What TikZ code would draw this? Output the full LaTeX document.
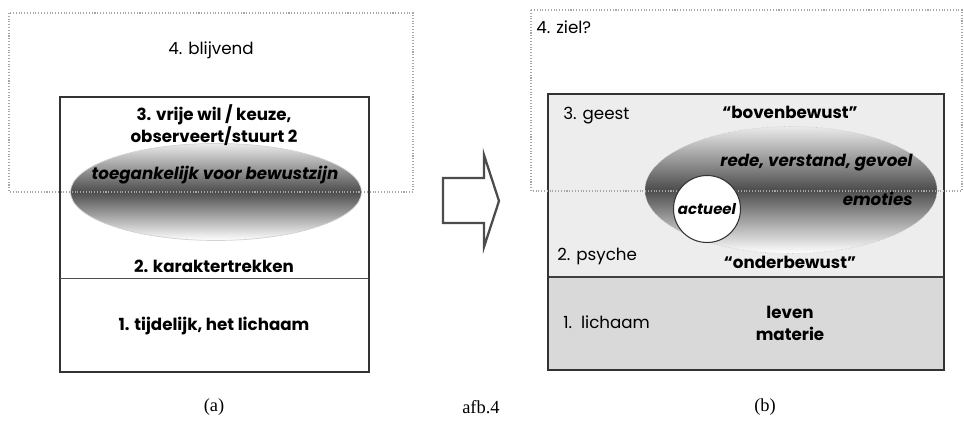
\documentclass[tikz,border=0pt]{standalone}
\usepackage{fontspec}
\setmainfont{Poppins}
\newfontfamily\capfont{Liberation Serif}
\usetikzlibrary{positioning,shapes.geometric}

\newcommand{\pxl}{0.02cm}
\tikzset{
  lblb/.style={font=\fontsize{9.5}{12.5}\selectfont\bfseries, align=center, inner sep=0pt},
  lbln/.style={font=\fontsize{9.5}{12.5}\selectfont, align=left, inner sep=0pt},
  lbli/.style={font=\fontsize{9.5}{12.5}\selectfont\bfseries\itshape, inner sep=0pt},
  dotbox/.style={draw=gray!70, densely dotted, line width=0.6pt},
  mainbox/.style={draw=black!80, line width=1.4pt},
  oval/.style={ellipse, draw=gray!35, top color=black!8, bottom color=white, middle color=black!70},
  capt/.style={font=\capfont\fontsize{10.5}{12}\selectfont, inner sep=0pt}
}

\begin{document}
\begin{tikzpicture}[x=\pxl, y=-\pxl]
  \useasboundingbox (0,0) rectangle (964,428);
  % (a)
  \draw[mainbox, fill=white] (60,97) rectangle (369,372);
  \draw[black!70, line width=0.5pt] (60,278) -- (369,278);
  \node[oval, minimum width=291*\pxl, minimum height=97*\pxl] (ovalA) at (216,192) {};
  \draw[dotbox] (9,13) rectangle (413,192);
  \node[lbln] (blijvend) at (211,50) {4. blijvend};
  \node[lblb] (vrijewil) at (214,125) {3. vrije wil / keuze,\\observeert/stuurt 2};
  \node[lbli] (toegank) at (215,175) {toegankelijk voor bewustzijn};
  \node[lblb] (karakter) at (214,266) {2. karaktertrekken};
  \node[lblb] (tijdelijk) at (214,326) {1. tijdelijk, het lichaam};
  % arrow
  \draw[gray!60!black, line width=1.3pt, line join=miter, fill=white]
    (443,178) -- (484,178) -- (484,155) -- (499,201) -- (484,247) -- (484,223) -- (443,223) -- cycle;
  % (b)
  \fill[black!7] (548,94) rectangle (944,277);
  \fill[black!15] (548,277) rectangle (944,370);
  \draw[black!75, line width=0.6pt] (548,277) -- (944,277);
  \draw[mainbox] (548,94) rectangle (944,370);
  \node[oval, draw=gray!45, densely dotted, minimum width=292*\pxl, minimum height=127*\pxl] (ovalB) at (791,190) {};
  \draw[dotbox] (531,10) rectangle (962,191);
  \node[circle, draw=black!80, line width=0.6pt, fill=white, minimum size=67*\pxl, inner sep=0pt] (actueel) at (707,209) {};
  \node[lbli, font=\fontsize{8.5}{10}\selectfont\bfseries\itshape] (actueeltxt) at (actueel) {actueel};
  \node[lbln, anchor=west] (ziel) at (536,27) {4. ziel?};
  \node[lbln, anchor=west] (geest) at (563,116) {3. geest};
  \node[lblb] (boven) at (790,112) {``bovenbewust''};
  \node[lbli, anchor=east] (rede) at (913,163) {rede, verstand, gevoel};
  \node[lbli, anchor=east] (emoties) at (913,199) {emoties};
  \node[lbln, anchor=west] (psyche) at (557,256) {2. psyche};
  \node[lblb] (onder) at (790,262) {``onderbewust''};
  \node[lbln, anchor=west] (lichaam) at (563,322) {1.\ \ lichaam};
  \node[lblb] (leven) at (790,323) {leven\\materie};
  % captions
  \node[capt] (capa) at (214,407) {(a)};
  \node[capt] (afb) at (481,407) {afb.4};
  \node[capt] (capb) at (765,407) {(b)};
\end{tikzpicture}
\end{document}
